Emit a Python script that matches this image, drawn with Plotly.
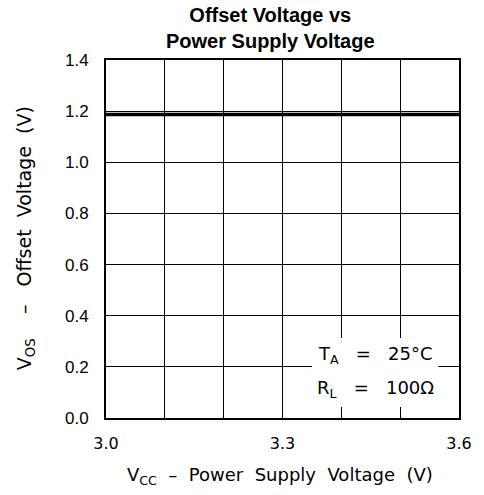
import plotly.graph_objects as go

# Data
vcc = [3.0, 3.1, 3.2, 3.3, 3.4, 3.5, 3.6]
vos = [1.187, 1.187, 1.187, 1.187, 1.187, 1.187, 1.187]

x_tickvals = [3.0, 3.3, 3.6]
x_ticktext = ["3.0", "3.3", "3.6"]
y_tickvals = [0.0, 0.2, 0.4, 0.6, 0.8, 1.0, 1.2, 1.4]
y_ticktext = ["0.0", "0.2", "0.4", "0.6", "0.8", "1.0", "1.2", "1.4"]

title_text = "<b>Offset Voltage vs<br>Power Supply Voltage</b>"
x_title = "V<sub>CC</sub>  –  Power  Supply  Voltage  (V)"
y_title = "V<sub>OS</sub>    –   Offset  Voltage  (V)"
cond_lines = ["T<sub>A</sub>   =   25°C", "R<sub>L</sub>   =   100Ω"]

W, H = 484, 495
L, R, T, B = 106, 20, 60, 77
PH = H - T - B
PW = W - L - R


def py(pix):  # pixel row -> paper y
    return (H - B - pix) / PH


def px(pix):  # pixel col -> paper x
    return (pix - L) / PW


fig = go.Figure()
fig.add_trace(go.Scatter(x=vcc, y=vos, mode="lines",
                         line=dict(color="black", width=3.5),
                         showlegend=False, hoverinfo="skip"))

fig.update_layout(
    width=W, height=H,
    margin=dict(l=L, r=R, t=T, b=B),
    paper_bgcolor="white", plot_bgcolor="white",
    font=dict(family="DejaVu Sans", color="black"),
)

fig.update_xaxes(
    range=[3.0, 3.6], tickvals=x_tickvals, ticktext=x_ticktext,
    showgrid=True, gridcolor="black", gridwidth=1,
    minor=dict(dtick=0.1, tick0=3.0, showgrid=True, gridcolor="black", gridwidth=1),
    showline=True, linecolor="black", linewidth=2, mirror=True,
    ticks="", ticklabelstandoff=10,
    tickfont=dict(family="DejaVu Sans", size=16, color="black"),
    zeroline=False,
)
fig.update_yaxes(
    range=[0.0, 1.4], tickvals=y_tickvals, ticktext=y_ticktext,
    showgrid=True, gridcolor="black", gridwidth=1,
    showline=True, linecolor="black", linewidth=2, mirror=True,
    ticks="", ticklabelstandoff=12,
    tickfont=dict(family="Liberation Sans", size=17, color="black"),
    zeroline=False,
)

# title
fig.add_annotation(x=px(273), y=py(28), xref="paper", yref="paper",
                   text=title_text, showarrow=False,
                   xanchor="center", yanchor="middle",
                   font=dict(family="Liberation Sans", size=20, color="black"))

# axis titles
fig.add_annotation(x=px(282), y=py(476), xref="paper", yref="paper", text=x_title,
                   showarrow=False, xanchor="center", yanchor="middle",
                   font=dict(family="DejaVu Sans", size=18, color="black"))
fig.add_annotation(x=px(24), y=py(238), xref="paper", yref="paper", text=y_title,
                   showarrow=False, xanchor="center", yanchor="middle", textangle=-90,
                   font=dict(family="DejaVu Sans", size=19, color="black"))

# condition box
fig.add_shape(type="rect", xref="x", yref="y", x0=3.35, x1=3.565, y0=0.043, y1=0.313,
              fillcolor="white", line=dict(width=0), layer="above")
fig.add_annotation(x=3.458, y=0.245, xref="x", yref="y", text=cond_lines[0],
                   showarrow=False, font=dict(family="DejaVu Sans", size=18, color="black"))
fig.add_annotation(x=3.458, y=0.115, xref="x", yref="y", text=cond_lines[1],
                   showarrow=False, font=dict(family="DejaVu Sans", size=18, color="black"))

fig.write_html("out.html", config={"displayModeBar": False},
               post_script="document.body.style.margin='0px';")
